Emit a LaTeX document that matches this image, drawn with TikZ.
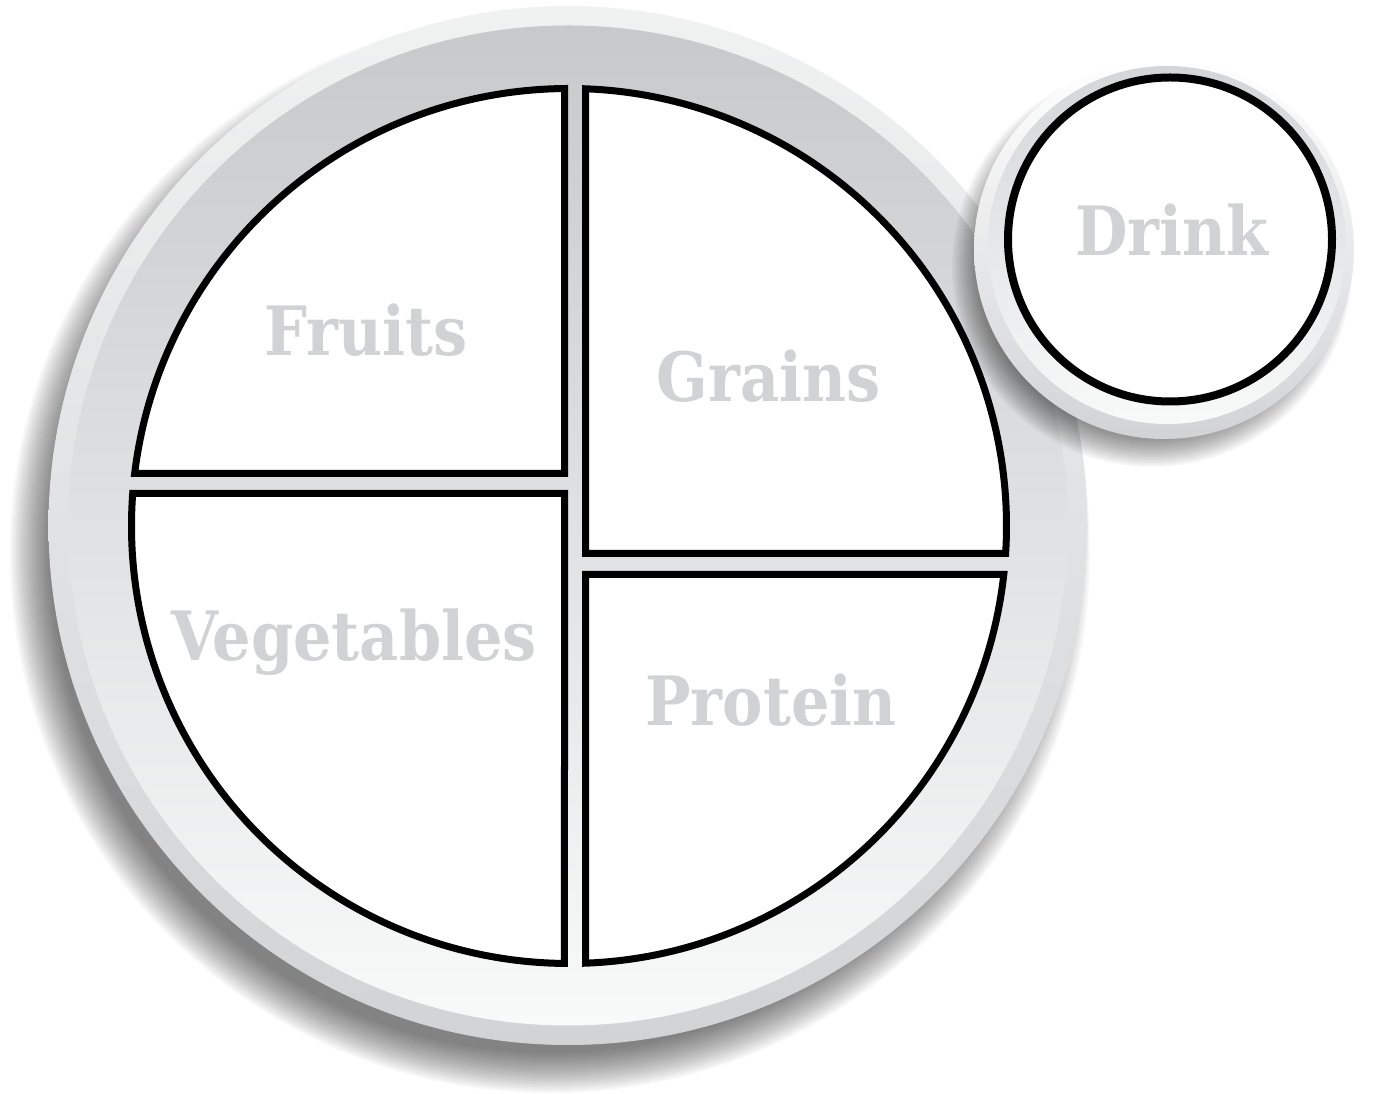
\documentclass[tikz,border=0pt]{standalone}
\usepackage{fontspec}
\usepackage{xcolor}
\usepackage{tikz}
\newfontfamily\platefont{DejaVu Serif}[FakeStretch=0.89]

\definecolor{labelgrey}{HTML}{D1D2D4}
\definecolor{rimtop}{HTML}{F0F1F1}
\definecolor{rimbottom}{HTML}{D2D3D5}
\definecolor{platetop}{HTML}{C8C9CB}
\definecolor{platemid}{HTML}{E3E4E6}
\definecolor{platebottom}{HTML}{F8F9F9}
\definecolor{cuptop}{HTML}{D4D5D7}

\begin{document}
\begin{tikzpicture}[x=1pt, y=1pt, line join=miter,
    section/.style={draw=black, line width=7pt, fill=white},
    foodlabel/.style={text=labelgrey, inner sep=0pt, anchor=base,
        font=\platefont\bfseries\fontsize{68}{68}\selectfont}]
    \useasboundingbox (0,0) rectangle (1379,1093);

    % Bóng của đĩa
    \foreach \r in {500,502,...,540} {
        \fill[black, opacity=0.03] (550,540) circle (\r);
    }

    % Vành đĩa và lòng đĩa
    \shade[top color=rimtop, bottom color=rimbottom] (568,567.5) circle (519.5);
    \shade[top color=platetop, middle color=platemid, bottom color=platebottom]
        (568,567.5) circle (500);

    % Bốn phần thức ăn
    \draw[section] (564.5,619.5) -- (134.66,619.5)
        arc[start angle=173.108, end angle=90.589, radius=437.5] -- cycle;
    \draw[section] (564.5,599.5) -- (132.71,599.5)
        arc[start angle=175.74, end angle=269.411, radius=437.5] -- cycle;
    \draw[section] (585.5,539.5) -- (585.5,1004.19)
        arc[start angle=87.839, end angle=-3.604, radius=437.5] -- cycle;
    \draw[section] (585.5,518.5) -- (1003.80,518.5)
        arc[start angle=-6.365, end angle=-87.839, radius=437.5] -- cycle;

    % Cốc nước
    \foreach \r in {170,172,...,200} {
        \fill[black, opacity=0.035] (1152,826) circle (\r);
    }
    \shade[top color=white, bottom color=rimbottom] (1164,844) circle (190);
    \shade[top color=cuptop, bottom color=platebottom] (1167,848) circle (179);
    \draw[line width=8pt, fill=white] (1170,853.5) circle (162);

    % Nhãn
    \node[foodlabel] (fruits) at (366,737) {Fruits};
    \node[foodlabel] (grains) at (768.5,691) {Grains};
    \node[foodlabel] (vegetables) at (354,432) {Vegetables};
    \node[foodlabel] (protein) at (771,367) {Protein};
    \node[foodlabel] (drink) at (1172,837) {Drink};
\end{tikzpicture}
\end{document}
